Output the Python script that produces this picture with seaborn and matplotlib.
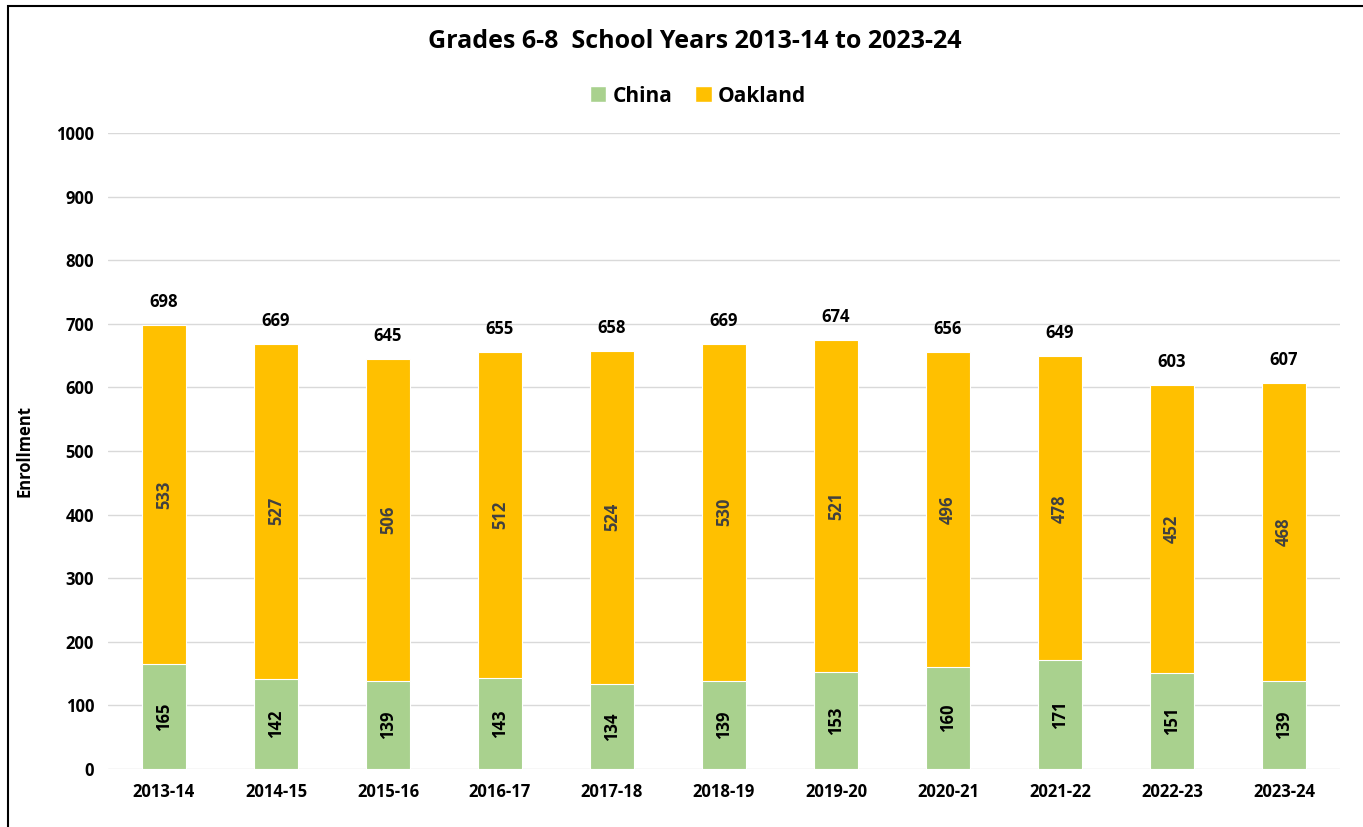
import pandas as pd
import matplotlib
matplotlib.use('Agg')
from matplotlib import pyplot as plt
from matplotlib.patches import Rectangle, Patch
import seaborn as sns

sns.set_style('white')
plt.rcParams['font.family'] = ['Open Sans', 'DejaVu Sans']
plt.rcParams['font.weight'] = 'bold'
plt.rcParams['text.color'] = 'black'
plt.rcParams['xtick.color'] = 'black'
plt.rcParams['ytick.color'] = 'black'
plt.rcParams['axes.labelcolor'] = 'black'

# Data
years = ['2013-14', '2014-15', '2015-16', '2016-17', '2017-18', '2018-19',
         '2019-20', '2020-21', '2021-22', '2022-23', '2023-24']
china = [165, 142, 139, 143, 134, 139, 153, 160, 171, 151, 139]
oakland = [533, 527, 506, 512, 524, 530, 521, 496, 478, 452, 468]

df = pd.DataFrame({'year': years, 'China': china, 'Oakland': oakland})
df['Total'] = df['China'] + df['Oakland']

green = '#A9D18E'
orange = '#FFC000'

fig = plt.figure(figsize=(13.63, 8.27), dpi=100)
ax = fig.add_axes([108 / 1363, 1 - 769 / 827, (1340 - 108) / 1363, (769 - 133) / 827])

# stacked: total in orange, China drawn over it in green
sns.barplot(x='year', y='Total', data=df, color=orange, width=0.4, saturation=1,
            edgecolor='white', linewidth=0.8, ax=ax)
sns.barplot(x='year', y='China', data=df, color=green, width=0.4, saturation=1,
            edgecolor='white', linewidth=0.8, ax=ax)

fs = 12
for i, row in df.iterrows():
    ax.text(i, row['China'] / 2, str(row['China']), rotation=90, ha='center', va='center',
            fontsize=fs, fontweight='bold', color='black')
    ax.text(i, row['China'] + row['Oakland'] / 2, str(row['Oakland']), rotation=90,
            ha='center', va='center', fontsize=fs, fontweight='bold', color='#404040')
    ax.text(i, row['Total'] + 22, str(row['Total']), ha='center', va='bottom',
            fontsize=fs, fontweight='bold', color='black')

ax.set_ylim(0, 1000)
ax.set_xlim(-0.5, len(years) - 0.5)
ax.set_yticks(range(0, 1001, 100))
ax.yaxis.grid(True, color='#D9D9D9', linewidth=1)
ax.set_axisbelow(True)
for s in ax.spines.values():
    s.set_visible(False)
ax.tick_params(axis='both', length=0, labelsize=fs, pad=10)
for lab in ax.get_xticklabels() + ax.get_yticklabels():
    lab.set_fontweight('bold')
ax.set_xlabel('')
ax.set_ylabel('Enrollment', fontsize=fs, fontweight='bold', labelpad=16)

fig.text(695 / 1363, 1 - 42 / 827, 'Grades 6-8  School Years 2013-14 to 2023-24', ha='center',
         va='center', fontsize=18, fontweight='bold')
handles = [Patch(facecolor=green, label='China'), Patch(facecolor=orange, label='Oakland')]
fig.legend(handles=handles, loc='center', bbox_to_anchor=(698 / 1363, 1 - 96 / 827), ncol=2,
           frameon=False, handlelength=0.8, handleheight=0.8,
           handletextpad=0.3, columnspacing=1.1, prop={'weight': 'bold', 'size': 15})

# outer border
fig.patches.append(Rectangle((8 / 1363, -0.01), 1.02, 1 - 6 / 827 + 0.01,
                             transform=fig.transFigure, fill=False,
                             edgecolor='black', linewidth=1.5))

fig.savefig('out.png', dpi=100)
